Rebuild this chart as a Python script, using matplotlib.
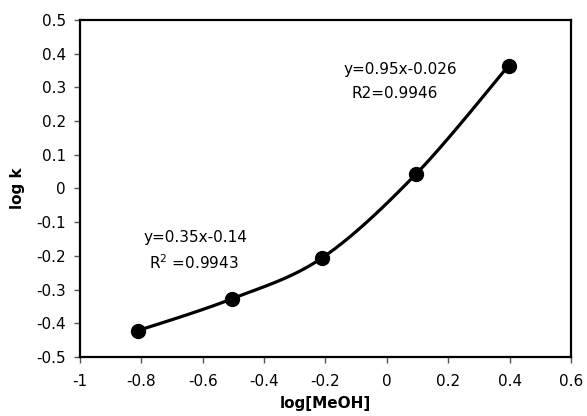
import numpy as np
import matplotlib
matplotlib.use('Agg')
import matplotlib.pyplot as plt

plt.rcParams['font.family'] = ['DejaVu Sans']

log_meoh = [-0.811, -0.506, -0.211, 0.095, 0.396]
log_k = [-0.422, -0.328, -0.206, 0.043, 0.364]
xticks = [-1, -0.8, -0.6, -0.4, -0.2, 0, 0.2, 0.4, 0.6]
xtick_labels = ['-1', '-0.8', '-0.6', '-0.4', '-0.2', '0', '0.2', '0.4', '0.6']
yticks = [-0.5, -0.4, -0.3, -0.2, -0.1, 0, 0.1, 0.2, 0.3, 0.4, 0.5]
ytick_labels = ['-0.5', '-0.4', '-0.3', '-0.2', '-0.1', '0', '0.1', '0.2', '0.3', '0.4', '0.5']


def smooth(xs, ys, n=30):
    # Excel-style smoothed line: bezier segments, ends doubled
    p = np.column_stack([xs, ys])
    p = np.vstack([p[0], p, p[-1]])
    t = np.linspace(0, 1, n)[:, None]
    out = []
    for i in range(1, len(p) - 2):
        p0, p1, p2, p3 = p[i - 1], p[i], p[i + 1], p[i + 2]
        c1 = p1 + (p2 - p0) / 6
        c2 = p2 - (p3 - p1) / 6
        seg = ((1 - t) ** 3 * p1 + 3 * (1 - t) ** 2 * t * c1
               + 3 * (1 - t) * t ** 2 * c2 + t ** 3 * p2)
        out.append(seg)
    out = np.vstack(out)
    return out[:, 0], out[:, 1]


fig = plt.figure(figsize=(5.87, 4.16), dpi=100)
ax = fig.add_axes([0.136, 0.142, 0.837, 0.81])

sx, sy = smooth(log_meoh, log_k)
ax.plot(sx, sy, color='black', lw=2.3)
ax.plot(log_meoh, log_k, 'o', color='black', ms=10)

ax.set_xlim(-1, 0.6)
ax.set_ylim(-0.5, 0.5)
ax.set_xticks(xticks)
ax.set_xticklabels(xtick_labels)
ax.set_yticks(yticks)
ax.set_yticklabels(ytick_labels)
ax.tick_params(direction='out', length=4, width=1, color='#555555', labelsize=11)
ax.tick_params(axis='x', pad=8)
ax.tick_params(axis='y', pad=6)
for s in ax.spines.values():
    s.set_linewidth(1.6)

ax.set_xlabel('log[MeOH]', fontsize=11, fontweight='bold', labelpad=5)
ax.set_ylabel('log k', fontsize=11, fontweight='bold', labelpad=8)

ax.text(-0.625, -0.147, 'y=0.35x-0.14', ha='center', va='center', fontsize=11)
ax.text(-0.63, -0.221, 'R$^2$ =0.9943', ha='center', va='center', fontsize=11)
ax.text(0.043, 0.352, 'y=0.95x-0.026', ha='center', va='center', fontsize=11)
ax.text(0.026, 0.283, 'R2=0.9946', ha='center', va='center', fontsize=11)

fig.savefig('out.png', dpi=100)
